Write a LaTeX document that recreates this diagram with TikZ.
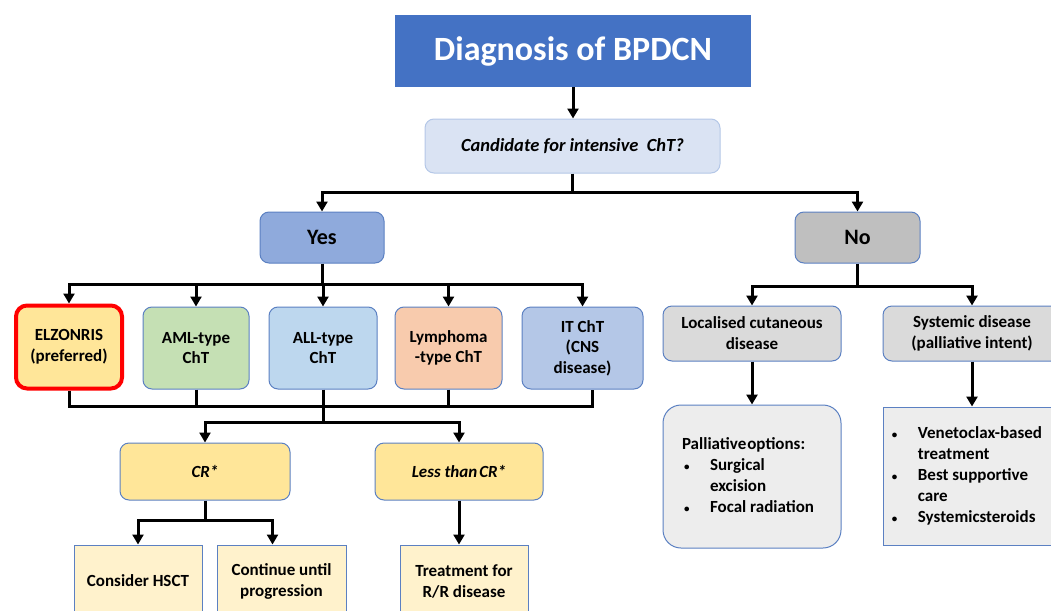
\documentclass[tikz,border=0pt]{standalone}
\usepackage{fontspec}
\setmainfont{Carlito}
\usetikzlibrary{arrows.meta}
\definecolor{TitleBlue}{HTML}{4472C4}
\definecolor{BoxLine}{HTML}{5B80C2}
\definecolor{CandFill}{HTML}{DAE3F3}
\definecolor{CandLine}{HTML}{B4C7E7}
\definecolor{YesFill}{HTML}{8FAADC}
\definecolor{NoFill}{HTML}{BFBFBF}
\definecolor{ElzFill}{HTML}{FFE699}
\definecolor{AmlFill}{HTML}{C5E0B4}
\definecolor{AllFill}{HTML}{BDD7EE}
\definecolor{LymFill}{HTML}{F8CBAD}
\definecolor{ItFill}{HTML}{B4C7E7}
\definecolor{CrFill}{HTML}{FFE699}
\definecolor{LowFill}{HTML}{FFF2CC}
\definecolor{GreyFill}{HTML}{DADADA}
\definecolor{PalFill}{HTML}{EDEDED}
\newcommand{\smallbul}{{\fontsize{11}{11}\selectfont\textbullet}}

\begin{document}
\begin{tikzpicture}
  [x=1pt, y=-1pt,
    BoxFont/.style={font=\bfseries\fontsize{17}{21}\selectfont},
    RoundNode/.style={rectangle, rounded corners=9pt, draw=BoxLine, line width=1pt, align=center, inner sep=0pt, BoxFont},
    SquareNode/.style={rectangle, draw=BoxLine, line width=1pt, align=center, inner sep=0pt, BoxFont},
    L1Node/.style={RoundNode, minimum height=82pt, font=\bfseries\fontsize{17}{20.5}\selectfont},
    Link/.style={line width=3pt},
    Arrow/.style={Link, -{Triangle[width=11pt,length=10pt]}}]
  \useasboundingbox (0,0) rectangle (1051,610);

  \node [rectangle, fill=TitleBlue, text=white, minimum width=356pt, minimum height=72pt, font=\bfseries\fontsize{34}{40}\selectfont] (title) at (573,51) {Diagnosis of BPDCN};
  \node [RoundNode, fill=CandFill, draw=CandLine, minimum width=295pt, minimum height=54pt, font=\bfseries\itshape\fontsize{18.5}{22}\selectfont] (cand) at (572.5,146) {Candidate for intensive\ \ ChT?};

  \node [RoundNode, fill=YesFill, minimum width=124pt, minimum height=51pt, font=\bfseries\fontsize{22}{26}\selectfont] (yes) at (322,237.5) {Yes};
  \node [RoundNode, fill=NoFill, minimum width=125pt, minimum height=51pt, font=\bfseries\fontsize{22}{26}\selectfont] (no) at (857.5,237.5) {No};

  \node [L1Node, fill=ElzFill, draw=red, line width=4pt, rounded corners=11pt, minimum width=106pt, minimum height=83pt] (elz) at (69,347) {ELZONRIS\\(preferred)};
  \node [L1Node, fill=AmlFill, minimum width=106pt] (aml) at (196,348) {AML-type\\ChT};
  \node [L1Node, fill=AllFill, minimum width=108pt] (all) at (323,348) {ALL-type\\ChT};
  \node [L1Node, fill=LymFill, minimum width=107pt] (lym) at (448.5,348) {Lymphoma\\-type ChT};
  \node [L1Node, fill=ItFill, minimum width=121pt] (itc) at (582.5,348) {IT ChT\\(CNS\\disease)};

  \node [RoundNode, fill=CrFill, minimum width=170pt, minimum height=57pt, font=\bfseries\itshape\fontsize{17}{21}\selectfont] (cr) at (205,471.5) {CR*};
  \node [RoundNode, fill=CrFill, minimum width=168pt, minimum height=57pt, font=\bfseries\itshape\fontsize{17}{21}\selectfont] (less) at (459,471.5) {Less than\hspace{2pt}CR*};

  \node [SquareNode, fill=LowFill, minimum width=128pt, minimum height=72pt] (hsct) at (138,581) {Consider HSCT};
  \node [SquareNode, fill=LowFill, minimum width=129pt, minimum height=72pt] (cont) at (281.5,581) {Continue until\\progression};
  \node [SquareNode, fill=LowFill, minimum width=128pt, minimum height=72pt] (rr) at (464,581) {Treatment for\\R/R disease};

  \node [RoundNode, fill=GreyFill, minimum width=178pt, minimum height=55pt] (loc) at (752,333.5) {Localised cutaneous\\disease};
  \node [RoundNode, fill=GreyFill, minimum width=178pt, minimum height=55pt] (sys) at (972,333.5) {Systemic disease\\(palliative intent)};

  \node [RoundNode, fill=PalFill, rounded corners=18pt, minimum width=178pt, minimum height=143pt] (pal) at (752,476.5)
    {\begin{tabular}{@{}p{28pt}@{}l@{\hspace{8pt}}}
      \multicolumn{2}{@{}l@{}}{Palliative\hspace{1pt}options:}\\
      \hspace{2pt}\smallbul & Surgical\\
       & excision\\
      \hspace{2pt}\smallbul & Focal radiation
    \end{tabular}};
  \node [SquareNode, fill=PalFill, minimum width=178pt, minimum height=138pt] (sbox) at (972,476)
    {\begin{tabular}{@{}p{26pt}@{}l@{\hspace{10pt}}}
      \smallbul & Venetoclax-based\\
       & treatment\\
      \smallbul & Best supportive\\
       & care\\
      \smallbul & Systemicsteroids
    \end{tabular}};

  \draw [Arrow] (title.south) -- (title.south |- cand.north);
  \draw [Link] (cand.south) -- ++(0,19) coordinate (cbus);
  \draw [Arrow] (cbus) -| (yes.north);
  \draw [Arrow] (cbus) -| (no.north);

  \draw [Link] (yes.south) -- ++(0,21) coordinate (ybus);
  \foreach \n in {elz,aml,all,lym,itc}
    \draw [Arrow] (ybus) -| (\n.north);

  \coordinate (rbus) at (0,406);
  \coordinate (itout) at ([xshift=10pt]itc.south);
  \draw [Link] (elz.south) |- (rbus -| itout) -- (itout);
  \foreach \n in {aml,lym}
    \draw [Link] (\n.south) -- (\n.south |- rbus);
  \draw [Link] (all.south) -- ++(0,33) coordinate (crbus);
  \draw [Arrow] (crbus) -| (cr.north);
  \draw [Arrow] (crbus) -| (less.north);

  \draw [Link] (cr.south) -- ++(0,20) coordinate (hbus);
  \draw [Arrow] (hbus) -| (hsct.north);
  \draw [Arrow] (hbus) -| ([xshift=-9pt]cont.north);
  \draw [Arrow] (less.south) -- (less.south |- rr.north);

  \draw [Link] (no.south) -- ++(0,23) coordinate (nbus);
  \draw [Arrow] (nbus) -| (loc.north);
  \draw [Arrow] (nbus) -| (sys.north);
  \draw [Arrow] (loc.south) -- (pal.north);
  \draw [Arrow] (sys.south) -- (sbox.north);
\end{tikzpicture}
\end{document}
